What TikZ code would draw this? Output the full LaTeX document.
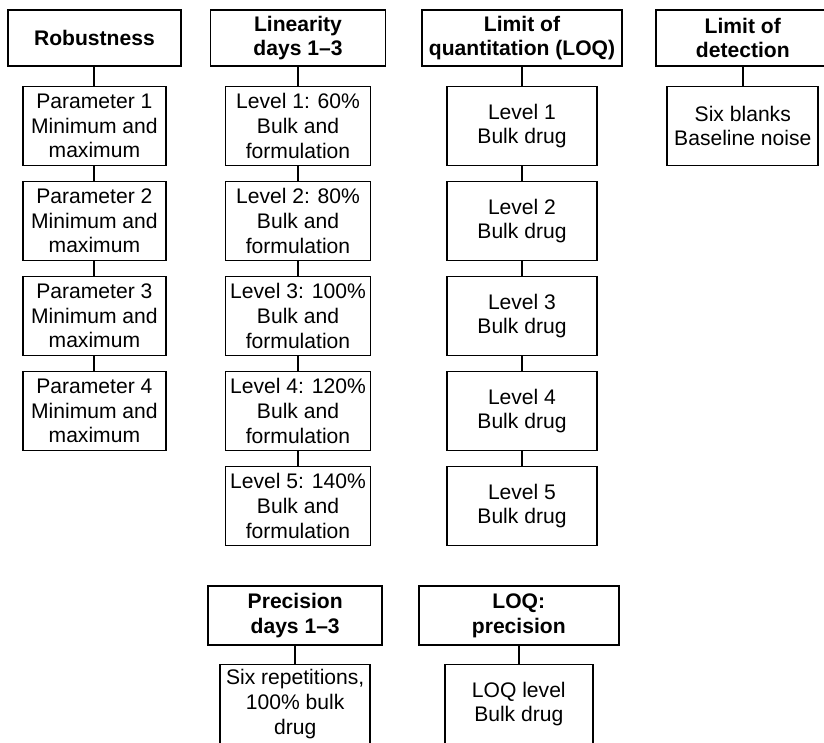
\documentclass[tikz,border=0pt]{standalone}
\usepackage{fontspec}
\setmainfont{Liberation Sans}
\usepackage{tikz}
\usetikzlibrary{positioning}
\tikzstyle{head} = [rectangle, draw=black, line width=1.4pt, inner sep=0pt, minimum height=1.4cm, align=center, font=\fontsize{15}{17.5}\selectfont\bfseries]
\tikzstyle{item} = [rectangle, draw=black, line width=1.4pt, inner sep=0pt, minimum height=1.975cm, align=center, font=\fontsize{15}{17.5}\selectfont]
\tikzstyle{link} = [line width=1.4pt]

\begin{document}
\begin{tikzpicture}
	\useasboundingbox (0,0) rectangle (20.6,-18.55);
	\clip (0,0) rectangle (20.6,-18.55);
	\coordinate (robust) at (2.36,-0.95);
	\coordinate (linear) at (7.45,-0.95);
	\coordinate (loq) at (13.05,-0.95);
	\coordinate (lod) at (18.57,-0.95);
	\coordinate (precis) at (7.38,-15.39);
	\coordinate (loqprec) at (12.97,-15.39);
	% Headings
	\node[head, name=robust, minimum width=4.325cm] at (robust) {Robustness};
	\node[head, name=linear, minimum width=4.375cm] at (linear) {Linearity\\days 1--3};
	\node[head, name=loq, minimum width=5cm] at (loq) {Limit of\\quantitation (LOQ)};
	\node[head, name=lod, minimum width=4.35cm] at (lod) {Limit of\\detection};
	\node[head, name=precis, minimum width=4.35cm, minimum height=1.475cm] at (precis) {Precision\\days 1--3};
	\node[head, name=loqprec, minimum width=5cm, minimum height=1.475cm] at (loqprec) {LOQ:\\precision};
	% Robustness
	\begin{scope}[every node/.style={item, minimum width=3.575cm}]
	\node[name=par1] at (2.36,-3.15) {Parameter 1\\Minimum and\\maximum};
	\node[name=par2] at (2.36,-5.525) {Parameter 2\\Minimum and\\maximum};
	\node[name=par3] at (2.36,-7.9) {Parameter 3\\Minimum and\\maximum};
	\node[name=par4] at (2.36,-10.275) {Parameter 4\\Minimum and\\maximum};
	\end{scope}
	% Linearity
	\begin{scope}[every node/.style={item, minimum width=3.625cm}]
	\node[name=lin1] at (7.45,-3.15) {Level 1: 60\%\\Bulk and\\formulation};
	\node[name=lin2] at (7.45,-5.525) {Level 2: 80\%\\Bulk and\\formulation};
	\node[name=lin3] at (7.45,-7.9) {Level 3: 100\%\\Bulk and\\formulation};
	\node[name=lin4] at (7.45,-10.275) {Level 4: 120\%\\Bulk and\\formulation};
	\node[name=lin5] at (7.45,-12.65) {Level 5: 140\%\\Bulk and\\formulation};
	\end{scope}
	% LOQ
	\begin{scope}[every node/.style={item, minimum width=3.75cm}]
	\node[name=loq1] at (13.05,-3.15) {Level 1\\Bulk drug};
	\node[name=loq2] at (13.05,-5.525) {Level 2\\Bulk drug};
	\node[name=loq3] at (13.05,-7.9) {Level 3\\Bulk drug};
	\node[name=loq4] at (13.05,-10.275) {Level 4\\Bulk drug};
	\node[name=loq5] at (13.05,-12.65) {Level 5\\Bulk drug};
	\end{scope}
	% LOD and precision
	\node[item, name=lod1, minimum width=3.775cm] at (18.57,-3.15) {Six blanks\\Baseline noise};
	\node[item, name=prec1, minimum width=3.75cm] at (7.38,-17.6) {Six repetitions,\\100\% bulk\\drug};
	\node[item, name=loqp1, minimum width=3.7cm] at (12.97,-17.6) {LOQ level\\Bulk drug};
	\draw [link] (robust)--(par1);
	\draw [link] (par1)--(par2);
	\draw [link] (par2)--(par3);
	\draw [link] (par3)--(par4);
	\draw [link] (linear)--(lin1);
	\draw [link] (lin1)--(lin2);
	\draw [link] (lin2)--(lin3);
	\draw [link] (lin3)--(lin4);
	\draw [link] (lin4)--(lin5);
	\draw [link] (loq)--(loq1);
	\draw [link] (loq1)--(loq2);
	\draw [link] (loq2)--(loq3);
	\draw [link] (loq3)--(loq4);
	\draw [link] (loq4)--(loq5);
	\draw [link] (lod)--(lod1);
	\draw [link] (precis)--(prec1);
	\draw [link] (loqprec)--(loqp1);
\end{tikzpicture}
\end{document}
